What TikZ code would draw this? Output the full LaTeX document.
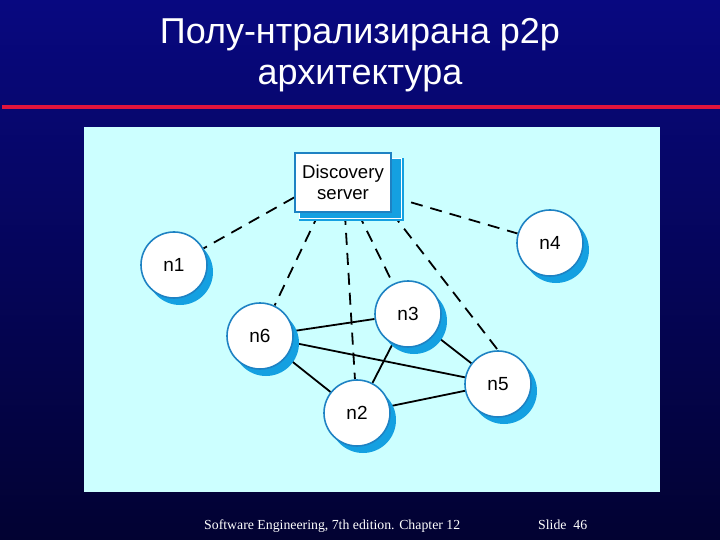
\documentclass[tikz,border=0pt]{standalone}
\usepackage{fontspec}
\setmainfont{Liberation Serif}
\newfontfamily\sansf{Liberation Sans}
\usetikzlibrary{shadows,calc}
\definecolor{panel}{RGB}{204,255,255}
\definecolor{ringblue}{RGB}{30,130,195}
\definecolor{shadblue}{RGB}{20,160,225}
\definecolor{redline}{RGB}{225,20,60}
\definecolor{bgtop}{RGB}{8,8,128}
\definecolor{bgbot}{RGB}{2,2,50}
\pgfdeclarelayer{bg}\pgfdeclarelayer{edges}\pgfdeclarelayer{shad}
\pgfsetlayers{bg,edges,shad,main}
\begin{document}
\begin{tikzpicture}[x=1pt,y=-1pt,
  peer/.style={circle, minimum size=66pt, inner sep=0pt, fill=white, draw=ringblue, line width=1.6pt,
    general shadow={fill=shadblue, draw=none, shadow xshift=6pt, shadow yshift=-7pt},
    font=\sansf\fontsize{19}{21}\selectfont},
  serverbox/.style={rectangle, minimum width=96pt, minimum height=59pt, inner sep=0pt, fill=white,
    draw=ringblue, line width=1.8pt, align=center, font=\sansf\fontsize{18.6}{20.5}\selectfont},
  dashline/.style={draw=black, line width=1.8pt, dash pattern=on 12pt off 8pt},
  solidline/.style={draw=black, line width=1.8pt},
  titletext/.style={font=\sansf\fontsize{36}{42}\selectfont, text=white, anchor=base, inner sep=0pt},
  foottext/.style={font=\fontsize{13.8}{16}\selectfont, text=white, anchor=base west, inner sep=0pt}]
\useasboundingbox (0,0) rectangle (720,540);
\begin{pgfonlayer}{bg}
  \shade[top color=bgtop, bottom color=bgbot] (0,0) rectangle (720,540);
  \fill[panel] (84,127) rectangle (660,492);
  \draw[redline, line width=4.5pt] (2,107) -- (720,107);
\end{pgfonlayer}

\node[titletext] (t1) at (360,44) {Полу-нтрализирана p2p};
\node[titletext] (t2) at (360,85) {архитектура};

\node[serverbox] (srv) at (343,182.5) {Discovery\\server};
\node[peer] (n1) at (174,265) {n1};
\node[peer] (n4) at (550,243) {n4};
\node[peer] (n3) at (408,314) {n3};
\node[peer] (n6) at (260,336) {n6};
\node[peer] (n5) at (498,384) {n5};
\node[peer] (n2) at (357,413) {n2};

\begin{pgfonlayer}{shad}
  \fill[shadblue] ([xshift=5pt,yshift=-6pt]srv.north west) rectangle ([xshift=12pt,yshift=-8pt]srv.south east);
  \draw[white, line width=0.8pt] ([xshift=5pt,yshift=-6pt]srv.north west) rectangle ([xshift=9.5pt,yshift=-5.5pt]srv.south east);
\end{pgfonlayer}

\begin{pgfonlayer}{edges}
  \draw[dashline] ([yshift=-15pt]srv.west) -- (n1);
  \draw[dashline] ([xshift=-24pt]srv.south) -- (n6);
  \draw[dashline] (srv) -- (n2);
  \draw[dashline] (srv) -- (n3);
  \draw[dashline] (srv.south east) -- (n5.north);
  \draw[dashline] (srv) -- (n4);
  \draw[solidline] (n6) -- (n3);
  \draw[solidline] (n6) -- (n5);
  \draw[solidline] (n6) -- (n2);
  \draw[solidline] (n3) -- (n2);
  \draw[solidline] (n3) -- (n5);
  \draw[solidline] (n2) -- (n5);
\end{pgfonlayer}

\node[foottext] (f1) at (204,529) {Software Engineering, 7th edition. Chapter 12};
\node[foottext] (f2) at (538,529) {Slide\ \ 46};
\end{tikzpicture}
\end{document}
